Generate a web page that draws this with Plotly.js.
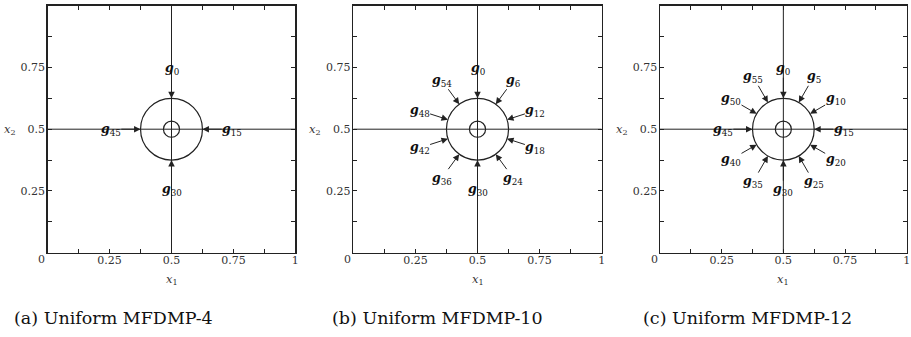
<!DOCTYPE html>
<html>
<head>
<meta charset="utf-8">
<script src="https://cdn.plot.ly/plotly-3.0.1.min.js"></script>
<style>html,body{margin:0;padding:0;background:#fff;}#chart{width:911px;height:337px;}</style>
</head>
<body>
<div id="chart"></div>
<script>
// ---- data ----
const captions = ['(a) Uniform MFDMP-4', '(b) Uniform MFDMP-10', '(c) Uniform MFDMP-12'];
const dirsA = [0, 15, 30, 45];
const dirsB = [0, 6, 12, 18, 24, 30, 36, 42, 48, 54];
const dirsC = [0, 5, 10, 15, 20, 25, 30, 35, 40, 45, 50, 55];
const panelDirs = [dirsA, dirsB, dirsC];
const degPerIndex = 6;          // direction g_k points at angle k*6 deg (clockwise from top)
const centerX = 0.5, centerY = 0.5;
const outerR = 0.125;
const innerR = 0.0325;
const labelR = 0.245;
const tickVals = [0.25, 0.5, 0.75, 1];
const tickText = ['0.25', '0.5', '0.75', '1'];
const minorTickStep = 0.125;
const cornerLabel = '0';

// ---- layout geometry (pixels) ----
const W = 911, H = 337;
const xPix = [[47.7, 295.3], [353.3, 601.7], [660, 906.7]];
const yPix = [5.7, 252.7];
const captionX = [113, 437.5, 747.5];
const captionY = 318;

const serif = 'DejaVu Serif';
const ink = '#222';

const layout = {
  width: W, height: H,
  margin: {l: 0, r: 0, t: 0, b: 0},
  paper_bgcolor: '#fff', plot_bgcolor: '#fff',
  showlegend: false,
  font: {family: serif},
  shapes: [], annotations: []
};
const traces = [];

panelDirs.forEach((dirs, p) => {
  const sfx = p === 0 ? '' : String(p + 1);
  const xa = 'x' + sfx, ya = 'y' + sfx;
  const axCommon = {
    range: [0, 1], showgrid: false, zeroline: false,
    showline: true, mirror: 'ticks', linewidth: 1.5, linecolor: ink,
    ticks: 'inside', ticklen: 4, tickwidth: 1, tickcolor: ink,
    tickmode: 'array', tickvals: tickVals, ticktext: tickText,
    minor: {tick0: 0, dtick: minorTickStep, ticks: 'inside', ticklen: 4, tickwidth: 1, tickcolor: ink, showgrid: false},
    tickfont: {family: serif, size: 11, color: '#333'},
    fixedrange: true
  };
  layout['xaxis' + sfx] = Object.assign({}, axCommon, {
    domain: [xPix[p][0] / W, xPix[p][1] / W], anchor: ya, ticklabelstandoff: -3
  });
  layout['yaxis' + sfx] = Object.assign({}, axCommon, {
    domain: [1 - yPix[1] / H, 1 - yPix[0] / H], anchor: xa, ticklabelstandoff: -1
  });
  traces.push({x: [], y: [], xaxis: xa, yaxis: ya, type: 'scatter', mode: 'lines', hoverinfo: 'skip'});

  // crosshair lines
  layout.shapes.push({type: 'line', xref: xa, yref: ya, x0: centerX, x1: centerX, y0: 0, y1: 1, line: {color: ink, width: 1}});
  layout.shapes.push({type: 'line', xref: xa, yref: ya, x0: 0, x1: 1, y0: centerY, y1: centerY, line: {color: ink, width: 1}});
  // circles
  [outerR, innerR].forEach(r => {
    layout.shapes.push({type: 'circle', xref: xa, yref: ya,
      x0: centerX - r, x1: centerX + r, y0: centerY - r, y1: centerY + r,
      line: {color: ink, width: 1.2}});
  });

  // labelled arrows: label sits at the arrow tail, arrow points at the outer circle
  dirs.forEach(k => {
    const th = k * degPerIndex * Math.PI / 180;
    const sx = Math.sin(th), cy = Math.cos(th);
    layout.annotations.push({
      xref: xa, yref: ya, axref: xa, ayref: ya,
      x: centerX + outerR * sx, y: centerY + outerR * cy,
      ax: centerX + labelR * sx, ay: centerY + labelR * cy,
      text: '<b><i>g</i></b><sub>' + k + '</sub>', showarrow: true,
      arrowhead: 2, arrowsize: 1.3, arrowwidth: 1, arrowcolor: ink,
      standoff: 0, startstandoff: 0, borderpad: 0,
      font: {family: serif, size: 12.5, color: '#111'}
    });
  });

  // axis titles
  layout.annotations.push({
    xref: xa + ' domain', yref: ya + ' domain', x: 0.5, y: 0, yshift: -27,
    xanchor: 'center', yanchor: 'middle', showarrow: false,
    text: '<i>x</i><sub>1</sub>', font: {family: serif, size: 11.5, color: '#333'}
  });
  layout.annotations.push({
    xref: xa + ' domain', yref: ya + ' domain', x: 0, y: 0.5, xshift: -38,
    xanchor: 'center', yanchor: 'middle', showarrow: false,
    text: '<i>x</i><sub>2</sub>', font: {family: serif, size: 11.5, color: '#333'}
  });
  // corner zero
  layout.annotations.push({
    xref: xa + ' domain', yref: ya + ' domain', x: 0, y: 0, xshift: -6, yshift: -7,
    xanchor: 'center', yanchor: 'middle', showarrow: false,
    text: cornerLabel, font: {family: serif, size: 11, color: '#333'}
  });
  // caption
  layout.annotations.push({
    xref: 'paper', yref: 'paper', x: captionX[p] / W, y: 1 - captionY / H,
    xanchor: 'center', yanchor: 'middle', showarrow: false,
    text: captions[p], font: {family: serif, size: 17.5, color: '#111'}
  });
});

Plotly.newPlot('chart', traces, layout, {staticPlot: true, displayModeBar: false});
</script>
</body>
</html>
